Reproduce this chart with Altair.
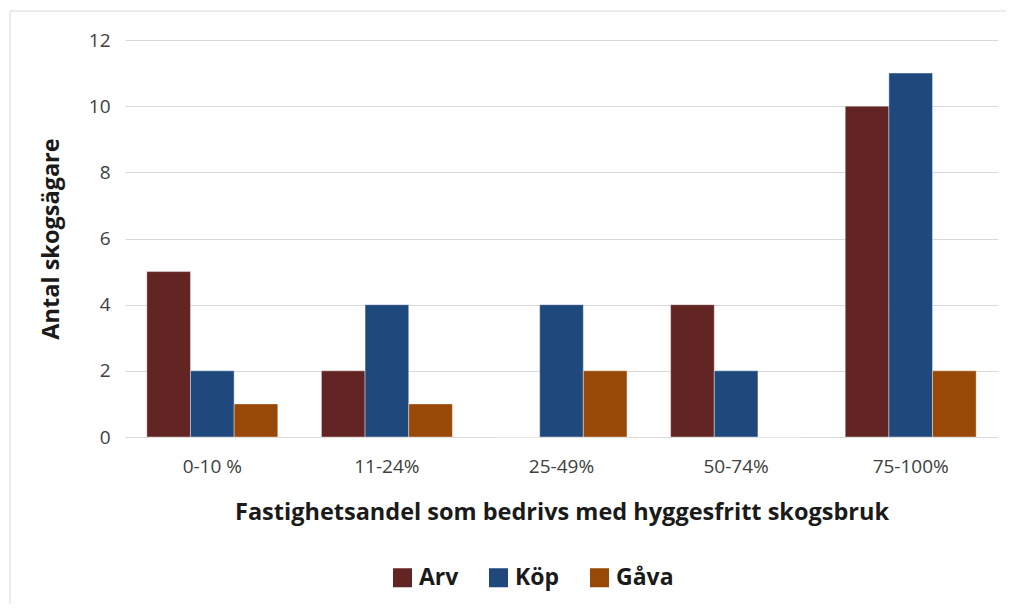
import altair as alt
import pandas as pd

categories = ["0-10 %", "11-24%", "25-49%", "50-74%", "75-100%"]
series = ["Arv", "Köp", "Gåva"]
arv = [5, 2, 0, 4, 10]
kop = [2, 4, 4, 2, 11]
gava = [1, 1, 2, 0, 2]
colors = ["#632523", "#1F497D", "#984807"]

rows = []
for i, c in enumerate(categories):
    for s, vals in zip(series, [arv, kop, gava]):
        rows.append({"cat": c, "serie": s, "antal": vals[i]})
df = pd.DataFrame(rows)

FONT = "Open Sans"
W, H = 873, 397

bars = alt.Chart(df).mark_bar(stroke="white", strokeWidth=0.4).encode(
    x=alt.X("cat:N", sort=categories,
            scale=alt.Scale(paddingInner=0.25, paddingOuter=0.125),
            axis=alt.Axis(title="Fastighetsandel som bedrivs med hyggesfritt skogsbruk",
                          labelAngle=0, labelPadding=20, titlePadding=24,
                          ticks=False, domain=False)),
    xOffset=alt.XOffset("serie:N", sort=series),
    y=alt.Y("antal:Q", scale=alt.Scale(domain=[0, 12]),
            axis=alt.Axis(title="Antal skogsägare", values=[0, 2, 4, 6, 8, 10, 12],
                          labelPadding=15, titlePadding=25, ticks=False, domain=False,
                          grid=True)),
    color=alt.Color("serie:N", sort=series,
                    scale=alt.Scale(domain=series, range=colors),
                    legend=alt.Legend(title=None, orient="none", direction="horizontal",
                                      legendX=266, legendY=526,
                                      symbolType="square", symbolSize=361,
                                      symbolStrokeWidth=0,
                                      labelFont=FONT, labelFontSize=23,
                                      labelFontWeight="bold", labelColor="#1a1a1a",
                                      labelOffset=5, columnPadding=28)),
)

border_df = pd.DataFrame({"k": [0]})
top_line = alt.Chart(border_df).mark_rule(color="#D9D9D9", strokeWidth=1).encode(
    x=alt.value(-115), x2=alt.value(W + 8), y=alt.value(-29))
left_line = alt.Chart(border_df).mark_rule(color="#D9D9D9", strokeWidth=1).encode(
    x=alt.value(-115), y=alt.value(-29), y2=alt.value(H + 175))

chart = alt.layer(bars, top_line, left_line).properties(
    width=W, height=H,
    autosize=alt.AutoSizeParams(type="none"),
    padding={"left": 117, "top": 32, "right": 8, "bottom": 167},
).configure_view(stroke=None).configure_axis(
    gridColor="#D9D9D9", gridWidth=1,
    labelFont=FONT, labelFontSize=19, labelColor="#404040",
    titleFont=FONT, titleFontSize=23.5, titleFontWeight="bold", titleColor="#1a1a1a",
)

chart.save("out.html", embed_options={"renderer": "svg", "actions": False})
